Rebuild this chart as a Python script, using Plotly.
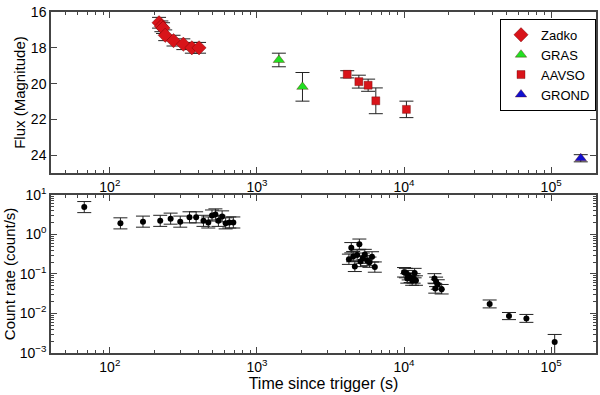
import numpy as np
import plotly.graph_objects as go
from plotly.subplots import make_subplots

# Optical light curve (top panel): time since trigger (s), magnitude, error (mag)
zadko_t = [216, 224, 230, 238, 271, 316, 361, 404]
zadko_mag = [16.6, 16.8, 16.9, 17.3, 17.6, 17.8, 18.0, 18.0]
zadko_err = [0.3, 0.3, 0.3, 0.3, 0.3, 0.3, 0.3, 0.3]

gras_t = [1410, 2040]
gras_mag = [18.68, 20.18]
gras_err = [0.38, 0.8]

aavso_t = [4110, 4930, 5700, 6430, 10380]
aavso_mag = [19.48, 19.89, 20.09, 20.96, 21.44]
aavso_err = [0.2, 0.36, 0.34, 0.72, 0.46]

grond_t = [159000]
grond_mag = [24.17]
grond_err = [0.2]

# X-ray light curve (bottom panel): time (s), count rate (count/s), error (dex)
xrt_t = [67, 118, 168, 220, 259, 301, 348, 386, 433, 467, 495, 522, 547, 580, 613, 649, 691,
         4220, 4380, 4510, 4630, 4800, 4970, 5060, 5250, 5410, 5610, 5820, 6060, 6330,
         10000, 10300, 10520, 10750, 11090, 11360, 11620, 11800, 12050,
         16100, 16300, 16520, 16950, 18020,
         38200, 51700, 67900, 105700]
xrt_rate = [4.9, 1.9, 2.1, 2.2, 2.5, 2.1, 2.7, 2.7, 2.2, 2.0, 3.0, 3.2, 2.2, 2.85, 1.9, 2.0, 2.0,
            0.235, 0.46, 0.274, 0.155, 0.30, 0.565, 0.206, 0.25, 0.31, 0.218, 0.198, 0.27, 0.149,
            0.11, 0.105, 0.077, 0.093, 0.08, 0.068, 0.077, 0.105, 0.068,
            0.077, 0.043, 0.063, 0.054, 0.041,
            0.0174, 0.0086, 0.0075, 0.0019]
xrt_err_up = [0.14] * 17 + [0.13] * 13 + [0.12] * 9 + [0.12] * 5 + [0.1, 0.09, 0.1, 0.19]
xrt_err_dn = [0.14] * 17 + [0.13] * 13 + [0.12] * 9 + [0.12] * 5 + [0.1, 0.09, 0.1, 1.5]

decade_vals = [1e1, 1e2, 1e3, 1e4, 1e5]
decade_text = ["10<sup>1</sup>", "10<sup>2</sup>", "10<sup>3</sup>", "10<sup>4</sup>", "10<sup>5</sup>"]
rate_vals = [1e-3, 1e-2, 1e-1, 1e0, 1e1]
rate_text = ["10<sup>−3</sup>", "10<sup>−2</sup>", "10<sup>−1</sup>", "10<sup>0</sup>", "10<sup>1</sup>"]
mag_vals = [16, 18, 20, 22, 24]

minor_t = [m * 10 ** e for e in range(1, 6) for m in range(2, 10)]
minor_r = [m * 10 ** e for e in range(-3, 1) for m in range(2, 10)]

FONT = "Liberation Sans, Arial, sans-serif"
ERRC = "#222222"

fig = make_subplots(rows=2, cols=1, vertical_spacing=0.0)


def opt_trace(t, mag, err, name, symbol, color, size):
    return go.Scatter(
        x=t, y=mag, mode="markers", name=name,
        marker=dict(symbol=symbol, color=color, size=size,
                    line=dict(color="rgba(90,0,0,0.6)", width=0.6)),
        error_y=dict(type="data", array=err, color=ERRC, thickness=1, width=7),
    )


fig.add_trace(opt_trace(zadko_t, zadko_mag, zadko_err, "Zadko", "diamond", "#d8141a", 11), row=1, col=1)
fig.add_trace(opt_trace(gras_t, gras_mag, gras_err, "GRAS", "triangle-up", "#22e022", 10), row=1, col=1)
fig.add_trace(opt_trace(aavso_t, aavso_mag, aavso_err, "AAVSO", "square", "#d8141a", 8), row=1, col=1)
fig.add_trace(opt_trace(grond_t, grond_mag, grond_err, "GROND", "triangle-up", "#1010d0", 10), row=1, col=1)

r = np.array(xrt_rate)
up = r * (10 ** np.array(xrt_err_up) - 1)
dn = r * (1 - 10 ** -np.array(xrt_err_dn))
fig.add_trace(go.Scatter(
    x=xrt_t, y=xrt_rate, mode="markers", showlegend=False,
    marker=dict(color="black", size=6),
    error_y=dict(type="data", symmetric=False, array=up, arrayminus=dn,
                 color=ERRC, thickness=1, width=7),
), row=2, col=1)

axis_common = dict(
    showline=True, linecolor="#444", linewidth=1.5, mirror="ticks",
    ticks="inside", ticklen=6, tickcolor="#444", showgrid=False, zeroline=False,
    tickfont=dict(size=14, color="black", family=FONT),
)

for row in (1, 2):
    fig.update_xaxes(type="log", range=[1.6, 5.305], tickmode="array",
                     tickvals=decade_vals, ticktext=decade_text,
                     minor=dict(ticks="inside", ticklen=3, tickcolor="#444",
                                tickmode="array", tickvals=minor_t, showgrid=False),
                     row=row, col=1, **axis_common)

fig.update_yaxes(range=[25, 16], tickmode="array", tickvals=mag_vals,
                 title=dict(text="Flux (Magnitude)", font=dict(size=15, family=FONT), standoff=2),
                 row=1, col=1, **axis_common)
fig.update_yaxes(type="log", range=[-3, 1], tickmode="array",
                 tickvals=rate_vals, ticktext=rate_text,
                 minor=dict(ticks="inside", ticklen=3, tickcolor="#444",
                            tickmode="array", tickvals=minor_r, showgrid=False),
                 title=dict(text="Count rate (count/s)", font=dict(size=15, family=FONT), standoff=0),
                 row=2, col=1, **axis_common)
fig.update_xaxes(title=dict(text="Time since trigger (s)", font=dict(size=16, family=FONT), standoff=2),
                 row=2, col=1)

fig.update_layout(
    width=600, height=395,
    margin=dict(l=51, r=2, t=8, b=42),
    paper_bgcolor="white", plot_bgcolor="white",
    font=dict(family=FONT, color="black"),
    yaxis=dict(domain=[0.5275, 1.0]),
    yaxis2=dict(domain=[0.0, 0.4638]),
    legend=dict(x=1.0, y=0.98, xanchor="right", yanchor="top",
                bordercolor="black", borderwidth=1, bgcolor="white",
                font=dict(size=13, family=FONT), tracegroupgap=0,
                itemwidth=30, xref="paper"),
)

# remove the default page margin so the figure sits at the window's corner
fig.write_html("out.html", config={"displayModeBar": False},
               post_script="document.body.style.margin='0';")
